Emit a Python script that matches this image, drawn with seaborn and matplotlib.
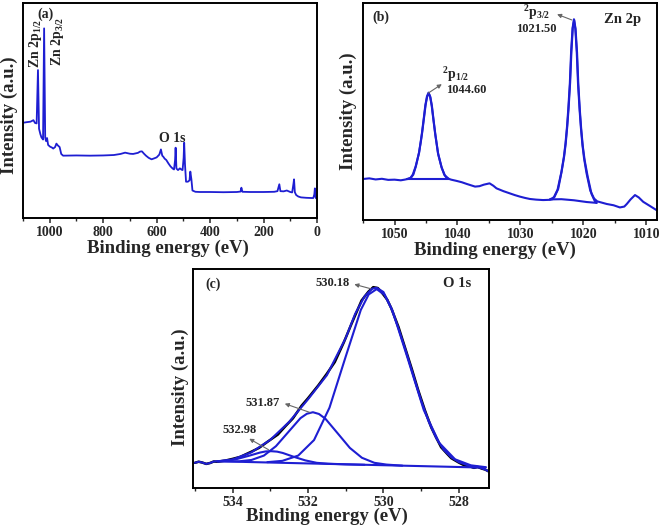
import matplotlib
matplotlib.use("Agg")
import matplotlib.pyplot as plt
import seaborn as sns
from matplotlib.ticker import MultipleLocator

# ---- (a) survey spectrum (binding energy in eV, intensity in arbitrary units) ----
survey_be = [1100, 1085, 1072, 1061, 1055, 1049, 1044, 1040, 1035, 1031, 1025, 1021, 1017,
             1014, 1010, 1006, 999, 992, 987, 980, 975, 970, 963, 957, 950, 900, 850, 800,
             760, 735, 718, 700, 688, 670, 662, 655, 648, 640, 630, 619, 608, 600, 590, 584,
             579, 575, 570, 564, 556, 548, 540, 535, 531, 529, 526, 520, 513, 507, 503, 499,
             497, 494, 490, 483, 477, 474, 470, 466, 455, 438, 400, 350, 300, 286, 283, 279,
             250, 200, 160, 148, 141, 137, 125, 113, 100, 93, 88, 86, 83, 78, 70, 60, 40, 20,
             14, 10, 8, 5, 3, 0]
survey_int = [44.3, 44.6, 44.8, 45.5, 44.2, 44.0, 68.8, 41.5, 39.0, 37.5, 36.5, 88.2, 37.5,
              35.8, 37.2, 34.0, 33.2, 32.8, 32.3, 33.0, 34.6, 33.8, 33.0, 29.8, 29.0, 29.1, 29.0, 29.1,
              29.3, 29.8, 30.4, 29.9, 29.8, 30.3, 30.9, 31.0, 30.0, 29.0, 28.0, 27.3, 27.8, 28.2, 29.5, 31.9,
              29.0, 28.5, 27.6, 27.0, 25.4, 24.0, 23.0, 22.6, 27.0, 32.7, 23.0, 22.3, 23.1, 22.5, 22.3, 28.0,
              35.0, 25.0, 16.9, 16.9, 17.5, 21.6, 18.0, 12.8, 12.2, 12.1, 12.1, 12.0, 12.1, 12.3, 14.1, 12.2,
              12.1, 12.1, 12.2, 12.5, 15.7, 12.5, 12.4, 12.8, 12.1, 11.9, 16.0, 18.0, 12.0, 10.7, 10.0, 9.6, 9.4, 9.3,
              9.3, 11.0, 13.8, 9.5, 9.1, 9.5]

# ---- (b) Zn 2p ----
zn_be = [1055, 1054, 1053, 1052, 1051, 1050, 1049, 1048.4, 1047.9, 1047.5, 1047.1, 1046.65,
         1046.1, 1045.85, 1045.65, 1045.35, 1045.1, 1044.85, 1044.6, 1044.35, 1044.1, 1043.85,
         1043.55, 1043.35, 1043.1, 1042.55, 1042.1, 1041.7, 1041.0, 1040.1, 1039.3, 1038.5,
         1037.2, 1036.5, 1035.8, 1034.9, 1034.3, 1033.8, 1032.7, 1031.7, 1030.9, 1030.1, 1029.3,
         1028.5, 1027.5, 1026.4, 1025.4, 1024.9, 1024.7, 1024.1, 1023.5, 1023.1, 1022.85, 1022.6,
         1022.4, 1022.15, 1021.95, 1021.72, 1021.5, 1021.28, 1021.05, 1020.85, 1020.6, 1020.4,
         1020.15, 1019.9, 1019.5, 1018.9, 1018.3, 1017.8, 1016.3, 1015.2, 1014.2, 1013.5, 1013.1,
         1012.5, 1011.8, 1011.2, 1010.5, 1009.5, 1008.4]
zn_int = [18.9, 19.2, 18.7, 19.0, 18.5, 18.6, 18.3, 18.6, 18.9, 19.3, 20.9, 24.6,
          30.9, 35.9, 39.9, 46.9, 52.9, 56.9, 58.7, 56.9, 52.9, 46.9,
          39.9, 35.9, 30.9, 24.6, 20.9, 19.3, 18.6, 18.0, 17.4, 16.6,
          15.4, 15.6, 16.3, 16.9, 15.8, 14.6, 13.3, 12.3, 11.5, 10.8, 10.2,
          9.7, 9.4, 9.2, 9.3, 9.6, 10.4, 14.0, 22.0, 29.0, 35.0, 43.0,
          51.0, 63.0, 77.4, 88.3, 92.5, 88.2, 77.2, 62.8, 50.7, 42.7,
          34.7, 28.6, 21.6, 13.5, 9.9, 8.6, 7.4, 6.8, 5.8, 6.2, 7.4,
          9.5, 11.5, 10.4, 8.4, 6.6, 4.6]

p12_bg_be = [1048.0, 1041.3]
p12_bg_int = [18.9, 18.9]
p12_fit_be = [1048.0, 1047.4, 1047.0, 1046.6, 1046.1, 1045.8, 1045.6, 1045.3, 1045.05, 1044.8,
              1044.55, 1044.3, 1044.05, 1043.8, 1043.5, 1043.3, 1043.05, 1042.5, 1042.0, 1041.4]
p12_fit_int = [18.9, 19.4, 21.0, 24.8, 31.2, 36.4, 40.4, 47.4, 53.2, 57.0,
               58.3, 56.6, 52.4, 46.2, 39.2, 35.2, 30.2, 24.0, 20.6, 19.0]

p32_bg_be = [1025.3, 1023.5, 1022.7, 1021.5, 1019.5, 1017.9]
p32_bg_int = [9.5, 9.6, 9.4, 9.1, 8.3, 7.9]
p32_fit_be = [1025.3, 1024.6, 1024.0, 1023.45, 1023.05, 1022.8, 1022.55, 1022.35, 1022.1, 1021.9,
              1021.68, 1021.46, 1021.24, 1021.0, 1020.8, 1020.55, 1020.35, 1020.1, 1019.8, 1019.3,
              1018.7, 1018.2, 1017.9]
p32_fit_int = [9.5, 10.6, 14.3, 22.4, 29.4, 35.4, 43.4, 51.4, 63.4, 77.6,
               88.6, 92.2, 88.0, 77.0, 62.4, 50.2, 42.2, 34.2, 27.6, 19.8,
               12.0, 8.8, 7.9]

# ---- (c) O 1s ----
o_raw_be = [535.0, 534.9, 534.8, 534.7, 534.6, 534.5, 534.4, 534.2, 534.0, 533.8, 533.5, 533.3,
            533.05, 532.8, 532.6, 532.4, 532.17, 532.0, 531.73, 531.5, 531.29, 531.05, 530.85,
            530.58, 530.4, 530.27, 530.15, 530.05, 529.9, 529.79, 529.6, 529.44, 529.25, 529.08,
            528.9, 528.73, 528.6, 528.47, 528.3, 528.2, 528.0, 527.85, 527.7, 527.6, 527.5, 527.4,
            527.3, 527.2]
o_raw_int = [11.5, 12.0, 11.6, 11.0, 11.4, 12.1, 12.0, 12.5, 13.3, 14.2, 16.6, 18.3,
             21.4, 24.4, 28.2, 31.8, 37.6, 41.0, 46.8, 52.2, 57.5, 66.5, 74.8,
             85.6, 89.6, 91.7, 91.3, 89.4, 86.0, 82.0, 73.5, 64.8, 54.5, 44.8,
             35.5, 27.6, 23.0, 18.6, 15.4, 13.6, 11.6, 10.3, 9.8, 9.2, 9.6, 8.9,
             8.4, 7.5]

o_env_be = [535.0, 534.9, 534.8, 534.7, 534.6, 534.5, 534.4, 534.0, 533.5, 533.0, 532.5, 532.0,
            531.5, 531.0, 530.75, 530.5, 530.3, 530.18, 530.0, 529.8, 529.6, 529.4, 529.2, 529.0,
            528.8, 528.6, 528.4, 528.2, 528.0, 527.8, 527.6, 527.5, 527.4, 527.3, 527.2]
o_env_int = [11.5, 12.0, 11.6, 11.0, 11.4, 12.1, 12.2, 13.0, 16.3, 22.0, 30.2, 40.5,
             51.5, 68.5, 79.5, 87.5, 91.0, 91.4, 89.5, 82.4, 72.8, 62.3, 51.0, 40.0,
             30.3, 22.8, 17.4, 14.0, 11.8, 10.6, 9.3, 9.7, 9.0, 8.4, 7.5]

o_bg_be = [534.4, 527.3]
o_bg_int = [12.2, 9.3]

o_c1_be = [533.08, 532.68, 532.26, 531.84, 531.43, 531.01, 530.6, 530.39, 530.18, 529.97,
           529.76, 529.35, 528.93, 528.52, 528.1, 527.68, 527.28]
o_c1_int = [11.8, 12.4, 14.8, 21.9, 36.7, 59.5, 81.3, 88.4, 90.8, 88.2,
            81.0, 58.8, 35.6, 20.6, 13.1, 10.35, 9.5]

o_c2_be = [534.4, 533.82, 533.5, 533.17, 532.85, 532.52, 532.2, 532.03, 531.87, 531.71, 531.54,
           531.22, 530.89, 530.57, 530.24, 529.92, 529.5]
o_c2_int = [12.2, 12.2, 12.8, 14.8, 19.1, 25.6, 31.9, 33.9, 34.6, 33.8, 31.65,
            25.1, 18.3, 13.8, 11.5, 10.7, 10.2]

o_c3_be = [534.4, 534.17, 533.87, 533.57, 533.27, 533.12, 532.97, 532.82, 532.67, 532.37, 532.07,
           531.77, 531.47, 531.0, 530.5]
o_c3_int = [12.2, 12.5, 13.3, 14.7, 16.2, 16.7, 16.8, 16.6, 16.0, 14.2, 12.6,
            11.5, 11.1, 10.8, 10.6]

BLUE = "#1e1ed2"

sns.set_style("ticks")
plt.rcParams.update({
    "font.family": "serif",
    "font.serif": ["Liberation Serif", "DejaVu Serif"],
    "font.weight": "bold",
    "mathtext.fontset": "custom",
    "mathtext.rm": "Liberation Serif:bold",
    "mathtext.bf": "Liberation Serif:bold",
    "mathtext.it": "Liberation Serif:bold",
})

fig = plt.figure(figsize=(6.61, 5.27), dpi=100)
ax_a = fig.add_axes([0.0348, 0.5863, 0.4448, 0.408])
ax_b = fig.add_axes([0.5492, 0.5825, 0.4448, 0.4118])
ax_c = fig.add_axes([0.292, 0.074, 0.4478, 0.4156])


def line(ax, x, y, color=BLUE, lw=1.5):
    sns.lineplot(x=x, y=y, ax=ax, color=color, linewidth=lw, estimator=None, sort=False)


def style_axis(ax, xlim, major, minor, xlab_pos, ylab_pos):
    ax.set_xlim(xlim)
    ax.set_ylim(0, 100)
    ax.set_yticks([])
    ax.xaxis.set_major_locator(MultipleLocator(major))
    ax.xaxis.set_minor_locator(MultipleLocator(minor))
    ax.tick_params(axis="x", which="major", direction="out", length=3.5, width=1.1,
                   labelsize=10, pad=2)
    ax.tick_params(axis="x", which="minor", direction="out", length=2, width=1.0)
    for s in ax.spines.values():
        s.set_visible(True)
        s.set_linewidth(1.4)
        s.set_color("black")
    ax.set_xlabel("Binding energy (eV)", fontsize=13.5, fontweight="bold")
    ax.set_ylabel("Intensity (a.u.)", fontsize=13.5, fontweight="bold")
    ax.xaxis.set_label_coords(*xlab_pos)
    ax.yaxis.set_label_coords(*ylab_pos)
    ax.xaxis.label.set_verticalalignment("center")
    ax.yaxis.label.set_verticalalignment("center")


def arrow(ax, tail, head):
    ax.annotate("", xy=head, xytext=tail, xycoords="axes fraction",
                textcoords="axes fraction",
                arrowprops=dict(arrowstyle="-|>", color="#666666", lw=0.8,
                                mutation_scale=6, shrinkA=0, shrinkB=0))


# (a)
line(ax_a, survey_be, survey_int, lw=1.3)
style_axis(ax_a, (1100, 0), 200, 100, (0.493, -0.14), (-0.048, 0.48))
ax_a.text(0.075, 0.949, "(a)", transform=ax_a.transAxes, ha="center", va="center", fontsize=10)
ax_a.text(0.041, 0.81, "Zn 2p$_{1/2}$", transform=ax_a.transAxes, ha="center", va="center",
          rotation=90, fontsize=10)
ax_a.text(0.119, 0.823, "Zn 2p$_{3/2}$", transform=ax_a.transAxes, ha="center", va="center",
          rotation=90, fontsize=10)
ax_a.text(0.507, 0.372, "O 1s", transform=ax_a.transAxes, ha="center", va="center", fontsize=10)

# (b)
line(ax_b, zn_be, zn_int)
line(ax_b, p12_bg_be, p12_bg_int)
line(ax_b, p12_fit_be, p12_fit_int)
line(ax_b, p32_bg_be, p32_bg_int)
line(ax_b, p32_fit_be, p32_fit_int)
style_axis(ax_b, (1055, 1008.3), 10, 5, (0.45, -0.138), (-0.051, 0.5))
ax_b.text(0.061, 0.935, "(b)", transform=ax_b.transAxes, ha="center", va="center", fontsize=10)
ax_b.text(0.884, 0.926, "Zn 2p", transform=ax_b.transAxes, ha="center", va="center", fontsize=10.5)
ax_b.text(0.545, 0.955, "$^{2}$p$_{3/2}$", transform=ax_b.transAxes, ha="left", va="center",
          fontsize=10)
ax_b.text(0.588, 0.88, "1021.50", transform=ax_b.transAxes, ha="center", va="center", fontsize=9)
arrow(ax_b, (0.71, 0.922), (0.66, 0.948))
ax_b.text(0.27, 0.67, "$^{2}$p$_{1/2}$", transform=ax_b.transAxes, ha="left", va="center",
          fontsize=10)
ax_b.text(0.352, 0.6, "1044.60", transform=ax_b.transAxes, ha="center", va="center", fontsize=9)
arrow(ax_b, (0.222, 0.585), (0.268, 0.626))

# (c)
line(ax_c, o_raw_be, o_raw_int, color="black", lw=1.8)
line(ax_c, o_env_be, o_env_int)
line(ax_c, o_bg_be, o_bg_int)
line(ax_c, o_c1_be, o_c1_int)
line(ax_c, o_c2_be, o_c2_int)
line(ax_c, o_c3_be, o_c3_int)
style_axis(ax_c, (535.05, 527.2), 2, 1, (0.452, -0.128), (-0.044, 0.46))
ax_c.text(0.068, 0.932, "(c)", transform=ax_c.transAxes, ha="center", va="center", fontsize=10)
ax_c.text(0.892, 0.932, "O 1s", transform=ax_c.transAxes, ha="center", va="center", fontsize=10.5)
ax_c.text(0.473, 0.936, "530.18", transform=ax_c.transAxes, ha="center", va="center", fontsize=9)
arrow(ax_c, (0.6, 0.91), (0.545, 0.93))
ax_c.text(0.236, 0.388, "531.87", transform=ax_c.transAxes, ha="center", va="center", fontsize=9)
arrow(ax_c, (0.395, 0.345), (0.31, 0.385))
ax_c.text(0.159, 0.265, "532.98", transform=ax_c.transAxes, ha="center", va="center", fontsize=9)
arrow(ax_c, (0.255, 0.175), (0.19, 0.225))

fig.savefig("out.png", dpi=100)
